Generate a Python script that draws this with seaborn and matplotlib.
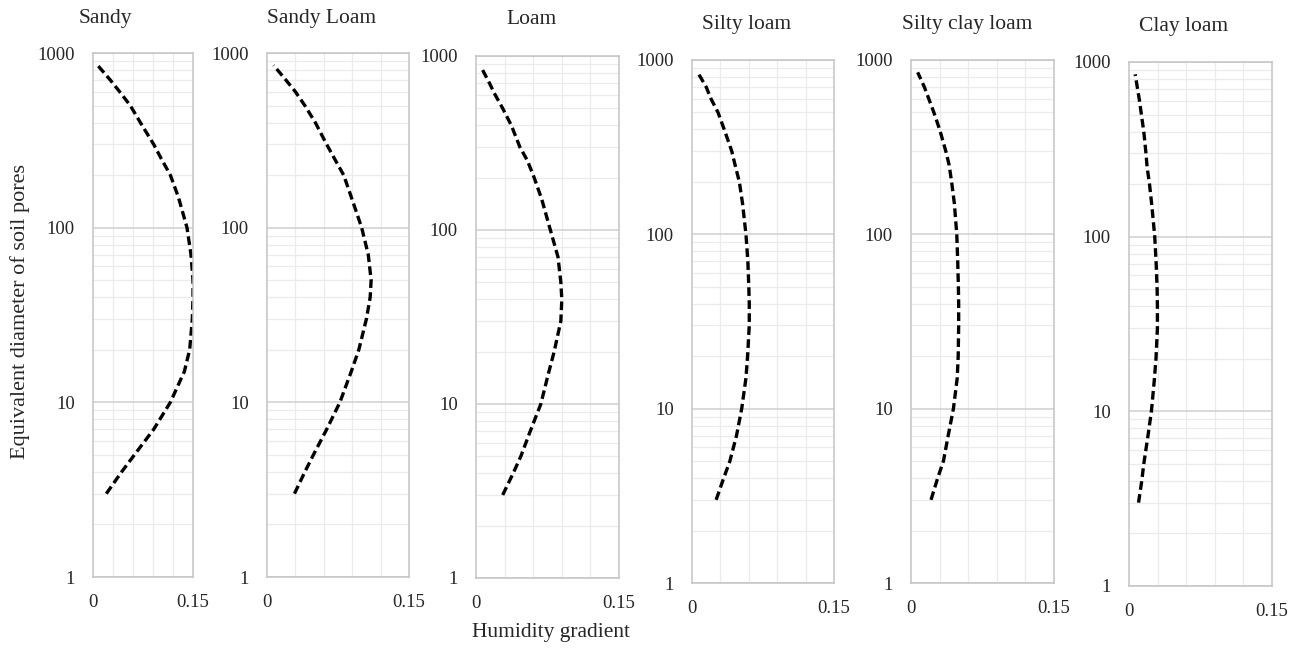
import numpy as np
import pandas as pd
import matplotlib
matplotlib.use("Agg")
import matplotlib.pyplot as plt
import matplotlib.ticker as mticker
import seaborn as sns

# pore diameter (y axis) shared by every soil
diameter = [3, 4, 5, 7, 10, 15, 20, 30, 40, 50, 70, 100, 150, 200, 250, 300, 400, 500, 600, 700, 850]

# humidity gradient
sandy           = [0.020, 0.043, 0.062, 0.091, 0.116, 0.137, 0.145, 0.149, 0.150, 0.150, 0.147, 0.141,
                   0.128, 0.116, 0.102, 0.091, 0.071, 0.056, 0.040, 0.026, 0.007]
sandy_loam      = [0.029, 0.040, 0.049, 0.063, 0.077, 0.089, 0.097, 0.105, 0.109, 0.110, 0.107, 0.100,
                   0.089, 0.081, 0.071, 0.063, 0.051, 0.040, 0.030, 0.020, 0.007]
loam            = [0.028, 0.039, 0.047, 0.057, 0.068, 0.076, 0.082, 0.089, 0.090, 0.089, 0.086, 0.078,
                   0.069, 0.061, 0.054, 0.046, 0.037, 0.028, 0.020, 0.014, 0.006]
silty_loam      = [0.0255, 0.0335, 0.040, 0.047, 0.0525, 0.057, 0.0587, 0.0605, 0.0605, 0.060, 0.059, 0.057,
                   0.0534, 0.050, 0.0455, 0.042, 0.034, 0.0275, 0.020, 0.015, 0.006]
silty_clay_loam = [0.021, 0.028, 0.034, 0.039, 0.0445, 0.0485, 0.0495, 0.050, 0.050, 0.0497, 0.049, 0.048,
                   0.0455, 0.0426, 0.040, 0.0365, 0.030, 0.024, 0.0186, 0.014, 0.007]
clay_loam       = [0.010, 0.0134, 0.0155, 0.0195, 0.0235, 0.0265, 0.0283, 0.0298, 0.0298, 0.0295, 0.0285, 0.027,
                   0.024, 0.0215, 0.019, 0.0178, 0.0155, 0.013, 0.011, 0.009, 0.0065]

titles = ["Sandy", "Sandy Loam", "Loam", "Silty loam", "Silty clay loam", "Clay loam"]
series = [sandy, sandy_loam, loam, silty_loam, silty_clay_loam, clay_loam]

W, H = 1301, 648
# axes boxes in pixels: left, right, top, bottom
boxes = [
    (93, 193, 53, 577),
    (267, 409, 53, 577),
    (476, 619, 56, 578),
    (692, 834, 60, 583),
    (911, 1054, 60, 583),
    (1129, 1272, 62, 586),
]
title_pos = [(105, 18), (322, 18), (532, 20), (747, 25), (967, 25), (1184, 27)]

sns.set_style("white")
plt.rcParams["font.family"] = ["Liberation Serif", "DejaVu Serif"]

fig = plt.figure(figsize=(W / 100, H / 100), dpi=100, facecolor="white")

for (l, r, t, b), title, (tx, ty), vals in zip(boxes, titles, title_pos, series):
    ax = fig.add_axes([l / W, 1 - b / H, (r - l) / W, (b - t) / H])
    df = pd.DataFrame({"gradient": vals, "diameter": diameter})
    sns.lineplot(data=df, x="gradient", y="diameter", sort=False, estimator=None,
                 color="black", lw=2.4, linestyle=(0, (2.6, 1.3)), ax=ax)
    ax.set_yscale("log")
    ax.set_ylim(1, 1000)
    ax.set_xlim(0, 0.15)
    ax.set_yticks([1, 10, 100, 1000])
    ax.set_yticklabels(["1", "10", "100", "1000"])
    ax.yaxis.set_minor_locator(mticker.LogLocator(base=10, subs=np.arange(2, 10)))
    ax.yaxis.set_minor_formatter(mticker.NullFormatter())
    ax.set_xticks([0, 0.15])
    ax.set_xticklabels(["0", "0.15"])
    ax.set_xticks([0.03, 0.06, 0.09, 0.12], minor=True)
    ax.tick_params(which="both", length=0)
    ax.tick_params(axis="y", pad=13, labelsize=13.5)
    ax.tick_params(axis="x", pad=12, labelsize=13.5)
    ax.grid(which="major", axis="y", color="#cfcfcf", lw=1.1)
    ax.grid(which="minor", axis="y", color="#ebebeb", lw=0.9)
    ax.grid(which="minor", axis="x", color="#ebebeb", lw=0.9)
    ax.set_axisbelow(True)
    for s in ax.spines.values():
        s.set_color("#c4c4c4")
        s.set_linewidth(1.1)
    ax.set_xlabel("")
    ax.set_ylabel("")
    fig.text(tx / W, 1 - ty / H, title, ha="center", va="center", fontsize=15.5)

fig.text(20 / W, 1 - 312 / H, "Equivalent diameter of soil pores", rotation=90,
         ha="center", va="center", fontsize=16)
fig.text(551 / W, 1 - 632 / H, "Humidity gradient", ha="center", va="center", fontsize=15.5)

fig.savefig("out.png", dpi=100, facecolor="white")
